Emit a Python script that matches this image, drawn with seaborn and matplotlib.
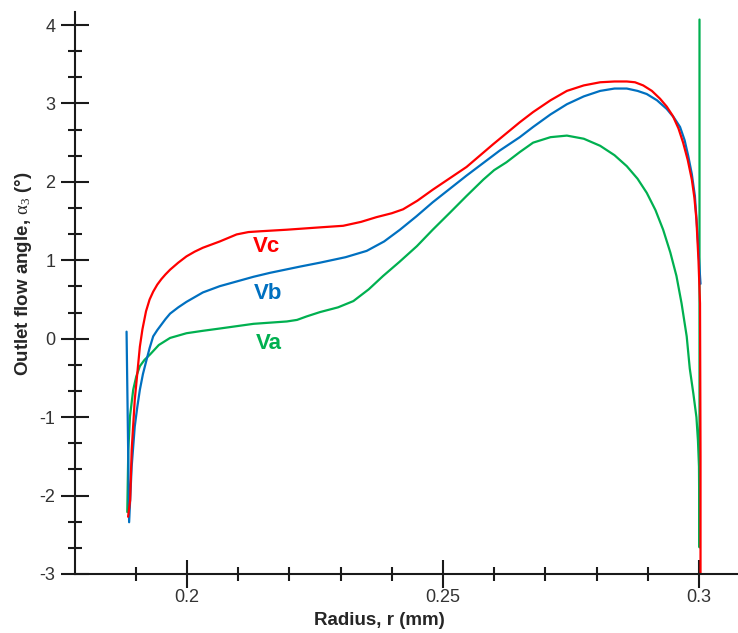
import numpy as np
import pandas as pd
import seaborn as sns
import matplotlib
matplotlib.use('Agg')
import matplotlib.pyplot as plt
from matplotlib.ticker import FixedLocator, MultipleLocator

# values
vc_r = [0.1885, 0.1889, 0.1892, 0.1898, 0.1908, 0.1913, 0.1920, 0.1927, 0.1934, 0.1942,
        0.1950, 0.1958, 0.1967, 0.1983, 0.1999, 0.2015, 0.2031, 0.2064, 0.2097, 0.2120,
        0.2143, 0.2195, 0.2260, 0.2305, 0.2340, 0.2370, 0.2400, 0.2422, 0.2450, 0.2480,
        0.2546, 0.2598, 0.2650, 0.2676, 0.2710, 0.2742, 0.2775, 0.2807, 0.2835, 0.2859,
        0.2875, 0.2891, 0.2908, 0.2924, 0.2937, 0.2949, 0.2960, 0.2969, 0.2978, 0.2986,
        0.2991, 0.2995, 0.2999, 0.3002, 0.3003, 0.3003]
vc_a = [-2.27, -2.06, -1.42, -0.78, -0.10, 0.12, 0.35, 0.50, 0.60, 0.69,
        0.76, 0.82, 0.88, 0.97, 1.05, 1.11, 1.16, 1.24, 1.33, 1.36,
        1.37, 1.39, 1.42, 1.44, 1.49, 1.55, 1.60, 1.65, 1.76, 1.90,
        2.19, 2.48, 2.76, 2.89, 3.04, 3.16, 3.23, 3.27, 3.28, 3.28,
        3.27, 3.23, 3.16, 3.06, 2.96, 2.84, 2.68, 2.50, 2.28, 2.03,
        1.80, 1.52, 1.00, 0.45, -1.50, -3.20]

vb_r = [0.1882, 0.1887, 0.1892, 0.1898, 0.1903, 0.1908, 0.1914, 0.1921, 0.1927, 0.1934,
        0.1942, 0.1950, 0.1958, 0.1967, 0.1983, 0.1999, 0.2015, 0.2031, 0.2064, 0.2097,
        0.2130, 0.2162, 0.2221, 0.2260, 0.2310, 0.2351, 0.2385, 0.2416, 0.2448, 0.2480,
        0.2546, 0.2611, 0.2650, 0.2676, 0.2710, 0.2742, 0.2775, 0.2807, 0.2835, 0.2859,
        0.2880, 0.2898, 0.2918, 0.2937, 0.2951, 0.2963, 0.2972, 0.2979, 0.2986, 0.2992,
        0.2997, 0.3002, 0.3003]
vb_a = [0.09, -2.34, -1.63, -1.12, -0.87, -0.65, -0.45, -0.27, -0.12, 0.03,
        0.11, 0.18, 0.25, 0.32, 0.40, 0.47, 0.53, 0.59, 0.67, 0.73,
        0.79, 0.84, 0.92, 0.97, 1.04, 1.12, 1.24, 1.39, 1.56, 1.74,
        2.08, 2.40, 2.57, 2.70, 2.86, 2.99, 3.09, 3.16, 3.19, 3.19,
        3.16, 3.12, 3.04, 2.93, 2.82, 2.70, 2.53, 2.33, 2.10, 1.82,
        1.35, 0.80, 0.70]

va_r = [0.18834, 0.18854, 0.18887, 0.1895, 0.1901, 0.1908, 0.1917, 0.1928, 0.1945, 0.1967,
        0.1999, 0.2030, 0.2064, 0.2130, 0.2195, 0.2215, 0.2234, 0.2260, 0.2295, 0.2325,
        0.2355, 0.2383, 0.2415, 0.2449, 0.2480, 0.2514, 0.2546, 0.2579, 0.2600, 0.2624,
        0.2650, 0.2676, 0.2710, 0.2742, 0.2775, 0.2807, 0.2835, 0.2859, 0.2880, 0.2898,
        0.2915, 0.2930, 0.2944, 0.2956, 0.2966, 0.2976, 0.2982, 0.2989, 0.2995, 0.2998,
        0.3000, 0.3001, 0.3001]
va_a = [-2.21, -1.42, -0.99, -0.65, -0.48, -0.35, -0.27, -0.20, -0.08, 0.01,
        0.07, 0.10, 0.13, 0.19, 0.22, 0.24, 0.285, 0.34, 0.40, 0.48,
        0.63, 0.80, 0.98, 1.18, 1.39, 1.61, 1.82, 2.03, 2.15, 2.25,
        2.38, 2.50, 2.57, 2.59, 2.55, 2.46, 2.34, 2.20, 2.04, 1.86,
        1.64, 1.39, 1.10, 0.80, 0.45, 0.03, -0.38, -0.70, -1.00, -1.30,
        -1.63, -2.66, 4.07]

cases = ['Va', 'Vb', 'Vc']
case_colors = ['#00b050', '#0070c0', '#ff0000']
label_r = [0.2159, 0.2158, 0.2155]
label_a = [-0.06, 0.58, 1.17]

x_major = [0.2, 0.25, 0.3]
x_major_labels = ['0.2', '0.25', '0.3']
x_minor = [0.19, 0.21, 0.22, 0.23, 0.24, 0.26, 0.27, 0.28, 0.29]

df = pd.concat([
    pd.DataFrame({'r': va_r, 'angle': va_a, 'case': 'Va'}),
    pd.DataFrame({'r': vb_r, 'angle': vb_a, 'case': 'Vb'}),
    pd.DataFrame({'r': vc_r, 'angle': vc_a, 'case': 'Vc'}),
], ignore_index=True)

sns.set_style('ticks')
plt.rcParams['font.family'] = ['Liberation Sans', 'DejaVu Sans']
plt.rcParams['axes.unicode_minus'] = False
plt.rcParams['mathtext.fontset'] = 'custom'
plt.rcParams['mathtext.rm'] = 'Liberation Serif'
plt.rcParams['mathtext.it'] = 'Liberation Serif'

fig = plt.figure(figsize=(7.38, 6.33), dpi=100)
ax = fig.add_axes([75 / 738, 59 / 633, 663 / 738, 562 / 633])

sns.lineplot(data=df, x='r', y='angle', hue='case', hue_order=cases,
             palette=dict(zip(cases, case_colors)), units='case', estimator=None,
             sort=False, linewidth=1.6, legend=False, ax=ax)

for name, col, lx, ly in zip(cases, case_colors, label_r, label_a):
    ax.text(lx, ly, name, color=col, fontsize=16, fontweight='bold',
            ha='center', va='center')

ax.set_xlim(0.17813, 0.30762)
ax.set_ylim(-3, 4.166)

ax.xaxis.set_major_locator(FixedLocator(x_major))
ax.set_xticklabels(x_major_labels)
ax.xaxis.set_minor_locator(FixedLocator(x_minor))
ax.yaxis.set_major_locator(MultipleLocator(1))
ax.yaxis.set_minor_locator(MultipleLocator(1 / 3))

spine_col = '#1a1a1a'
for s in ['top', 'right']:
    ax.spines[s].set_visible(False)
for s in ['left', 'bottom']:
    ax.spines[s].set_linewidth(1.5)
    ax.spines[s].set_color(spine_col)

ax.tick_params(which='major', direction='inout', length=20, width=1.5,
               color=spine_col, labelsize=13, labelcolor='#333333')
ax.tick_params(which='minor', direction='inout', length=10, width=1.5, color=spine_col)
ax.tick_params(axis='y', which='major', pad=4)
ax.tick_params(axis='x', which='major', pad=1)

ax.set_xlabel('Radius, r (mm)', fontsize=13.5, fontweight='bold')
ax.set_ylabel(r'Outlet flow angle, $\alpha_3$ (°)', fontsize=13.5, fontweight='bold')
ax.xaxis.set_label_coords(0.4585, -0.068)
ax.yaxis.set_label_coords(-0.062, 0.535)

fig.savefig('out.png', dpi=100)
